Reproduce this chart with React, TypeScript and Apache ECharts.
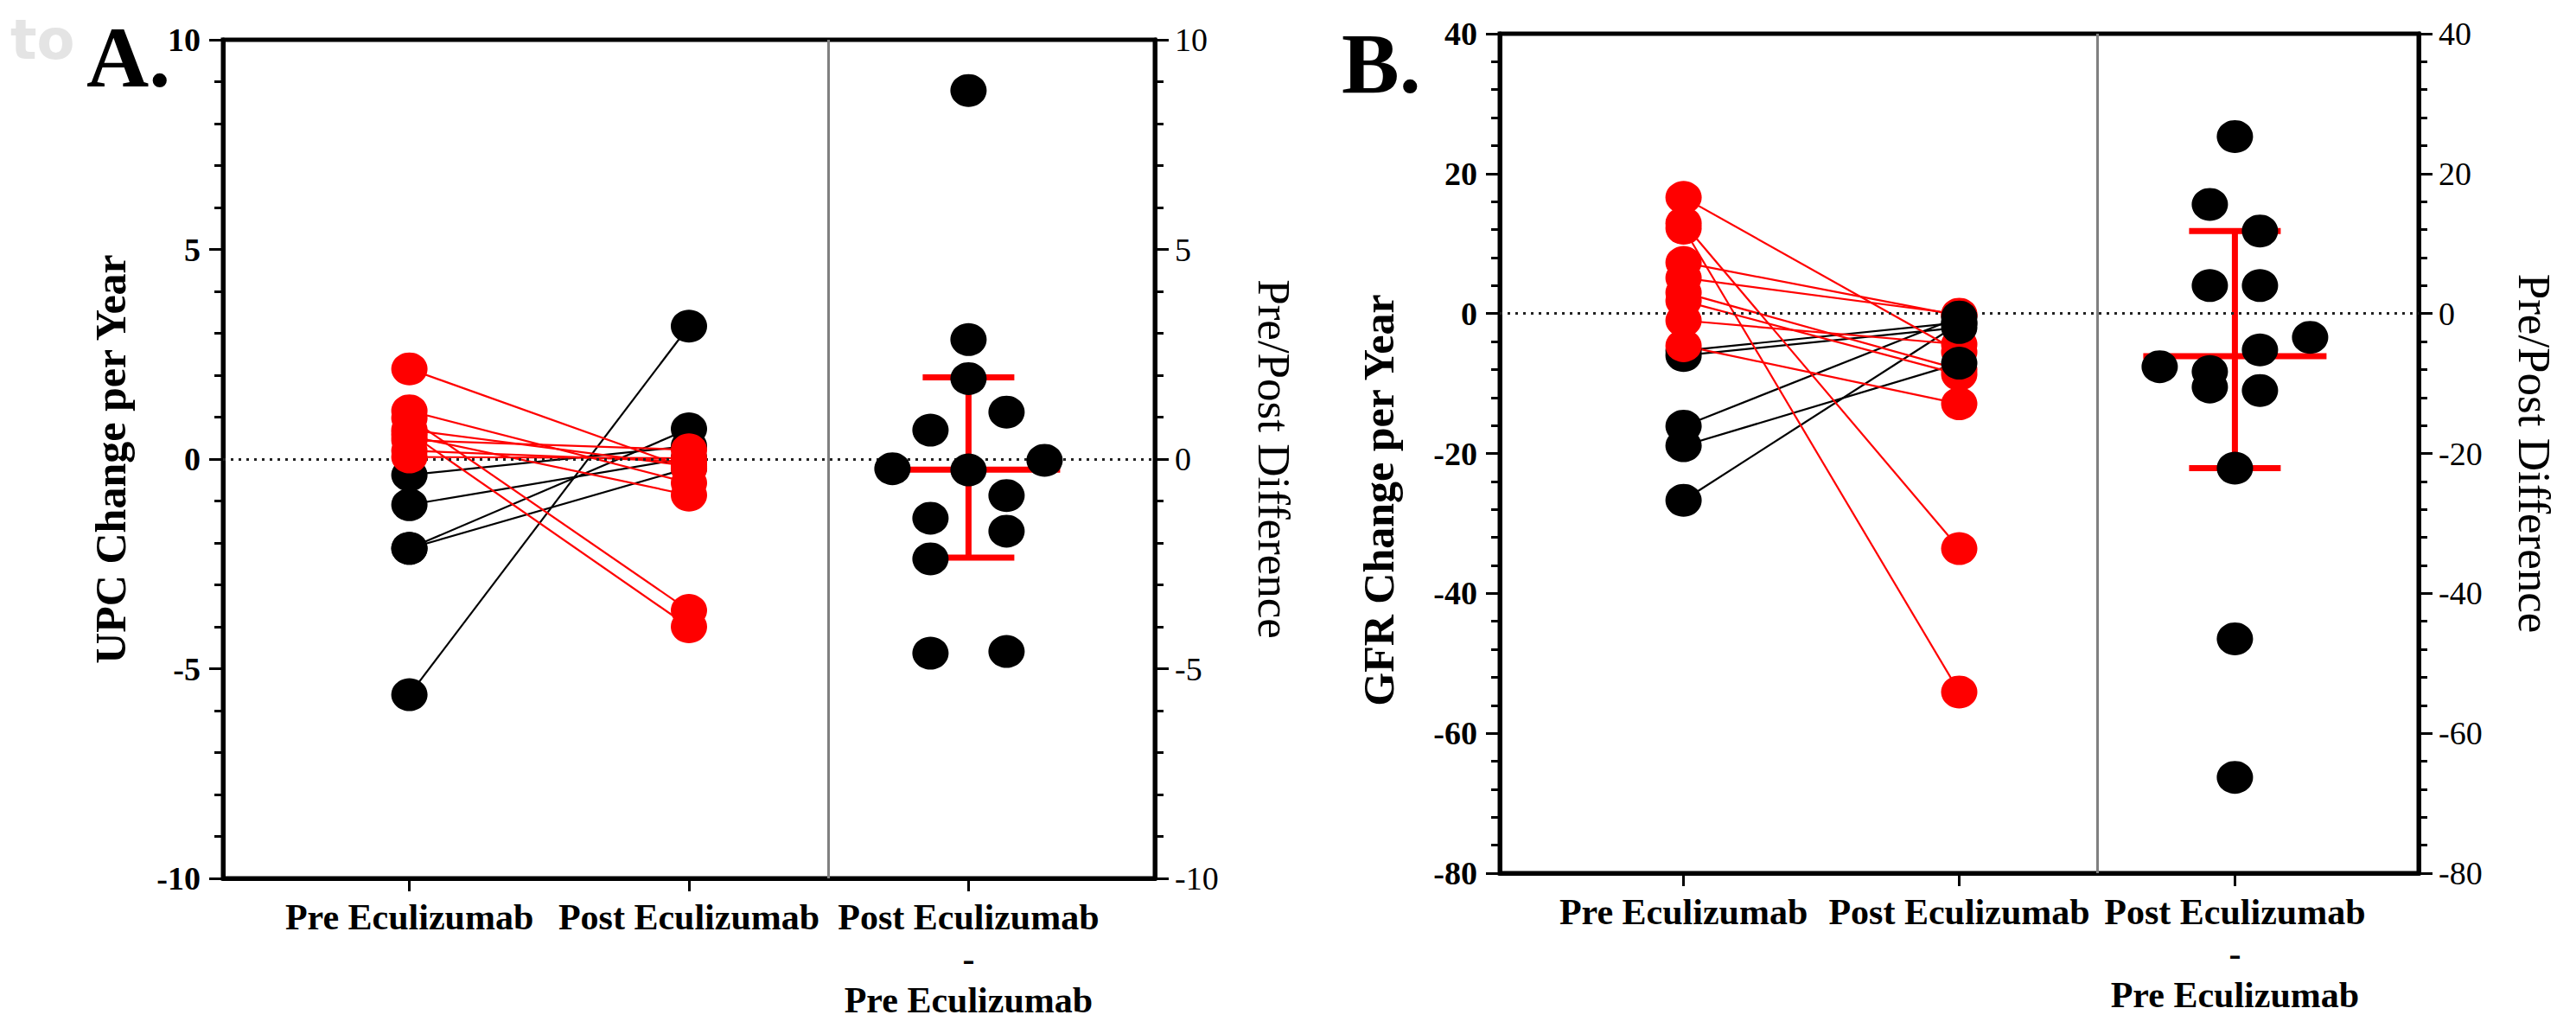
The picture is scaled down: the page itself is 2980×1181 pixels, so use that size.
import React, { useEffect, useRef } from "react";
import * as echarts from "echarts";

// ---------------- DATA ----------------
const categories = ["Pre Eculizumab", "Post Eculizumab", "Post Eculizumab\n-\nPre Eculizumab"];

// Panel A – UPC change per year (one entry per patient)
const upcPre = [-5.62, -2.13, -2.13, -0.38, -1.09, 2.15, 1.15, 0.63, 0.98, 0.55, 0.7, 0.45, 0.2, 0.05];
const upcPost = [3.17, 0.72, -0.21, 0.31, 0.03, -0.23, -0.57, -4.0, -3.61, -0.86, -0.17, 0.22, -0.06, 0.02];
const upcDiff = [8.79, 2.85, 1.92, 0.69, 1.12, -2.38, -1.72, -4.63, -4.59, -1.41, -0.87, -0.23, -0.26, -0.03];
// median, lower bar, upper bar
const upcSummary = [-0.25, -2.35, 1.95];
const upcTicks = [-10, 10, 5];

// Panel B – GFR change per year
const gfrPre = [-26.7, -16.1, -18.9, -6.0, -5.3, 16.6, 12.9, 12.2, 7.3, -4.6, 5.1, -1.0, 1.8, 3.0];
const gfrPost = [-1.4, -0.5, -7.1, -2.0, -1.3, -5.5, -33.6, -54.1, -0.3, -12.9, -0.1, -4.4, -8.7, -8.0];
const gfrDiff = [25.3, 15.6, 11.8, 4.0, 4.0, -22.1, -46.5, -66.3, -7.6, -8.3, -5.2, -3.4, -10.5, -11.0];
const gfrSummary = [-6.1, -22.1, 11.8];
const gfrTicks = [-80, 40, 20];

// ---------------- STYLE / LAYOUT ----------------
const W = 2980;
const H = 1181;
const X_MIN = 1 / 3;
const X_MAX = 11 / 3;
const RED = "#ff0000";
const BLACK = "#000000";
const SERIF = "'Liberation Serif', 'Times New Roman', serif";
const DOT: [number, number] = [42, 38];

const panels = [
  {
    letter: "A.",
    letterPos: [100, 66],
    pre: upcPre,
    post: upcPost,
    diff: upcDiff,
    summary: upcSummary,
    ticks: upcTicks,
    yName: "UPC Change per Year",
    grid: { left: 258, top: 46, width: 1078, height: 982 },
    yNameGap: 105,
    yNameShift: 0,
    rNameGap: 111,
    swarmBinPx: 38,
    swarmSpacingPx: 88,
    postBlackOnTop: false,
  },
  {
    letter: "B.",
    letterPos: [1552, 73],
    pre: gfrPre,
    post: gfrPost,
    diff: gfrDiff,
    summary: gfrSummary,
    ticks: gfrTicks,
    yName: "GFR Change per Year",
    grid: { left: 1735, top: 39, width: 1063, height: 971 },
    yNameGap: 115,
    yNameShift: 54,
    rNameGap: 107,
    swarmBinPx: 41,
    swarmSpacingPx: 58,
    postBlackOnTop: true,
  },
];

// Row-binned beeswarm offsets (x units) computed from the values
function swarmOffsets(values: number[], pxPerY: number, pxPerX: number, binPx: number, spacingPx: number) {
  const order = values.map((_, i) => i).sort((a, b) => values[b] - values[a]);
  const rows: number[][] = [];
  let cur: number[] = [];
  let start = 0;
  for (const i of order) {
    if (cur.length && (start - values[i]) * pxPerY >= binPx) {
      rows.push(cur);
      cur = [];
    }
    if (!cur.length) start = values[i];
    cur.push(i);
  }
  if (cur.length) rows.push(cur);
  const off = values.map(() => 0);
  for (const row of rows) {
    row.sort((a, b) => a - b);
    row.forEach((i, k) => {
      off[i] = ((k - (row.length - 1) / 2) * spacingPx) / pxPerX;
    });
  }
  return off;
}

function buildOption() {
  const grids: any[] = [];
  const xAxes: any[] = [];
  const yAxes: any[] = [];
  const series: any[] = [];
  const graphics: any[] = [];

  panels.forEach((p, i) => {
    const [yMin, yMax, yInt] = p.ticks;
    grids.push({
      ...p.grid,
      show: true,
      borderColor: BLACK,
      borderWidth: 5,
      backgroundColor: "transparent",
      containLabel: false,
    });
    xAxes.push({
      gridIndex: i,
      type: "value",
      min: X_MIN,
      max: X_MAX,
      axisLine: { show: true, onZero: false, lineStyle: { color: BLACK, width: 5 } },
      axisTick: { show: true, customValues: [1, 2, 3], length: 15, lineStyle: { color: BLACK, width: 3 } },
      axisLabel: {
        show: true,
        customValues: [1, 2, 3],
        formatter: (v: number) => categories[Math.round(v) - 1] || "",
        fontFamily: SERIF,
        fontWeight: "bold",
        fontSize: 42,
        lineHeight: 48,
        color: BLACK,
        margin: 21,
      },
      splitLine: { show: false },
    });
    const yCommon = {
      gridIndex: i,
      type: "value",
      min: yMin,
      max: yMax,
      interval: yInt,
      axisLine: { show: true, onZero: false, lineStyle: { color: BLACK, width: 5 } },
      axisTick: { show: true, length: 16, lineStyle: { color: BLACK, width: 3 } },
      minorTick: { show: true, splitNumber: 5, length: 10, lineStyle: { color: BLACK, width: 3 } },
      splitLine: { show: false },
      minorSplitLine: { show: false },
      nameLocation: "middle",
    };
    yAxes.push({
      ...yCommon,
      position: "left",
      axisLabel: { fontFamily: SERIF, fontWeight: "bold", fontSize: 38, color: BLACK, margin: 26 },
      name: p.yName,
      nameRotate: 90,
      nameGap: p.yNameGap,
      nameTextStyle: {
        fontFamily: SERIF,
        fontWeight: "bold",
        fontSize: 50,
        color: BLACK,
        padding: [0, p.yNameShift * 2, 0, 0],
      },
    });
    yAxes.push({
      ...yCommon,
      position: "right",
      axisLabel: { fontFamily: SERIF, fontWeight: "normal", fontSize: 38, color: BLACK, margin: 23 },
      name: "Pre/Post Difference",
      nameRotate: -90,
      nameGap: p.rNameGap,
      nameTextStyle: { fontFamily: SERIF, fontWeight: "normal", fontSize: 53, color: BLACK },
    });

    const yL = 2 * i;
    const yR = 2 * i + 1;

    // reference lines: dotted zero, grey separator
    series.push({
      type: "line",
      xAxisIndex: i,
      yAxisIndex: yL,
      data: [],
      silent: true,
      z: 1,
      markLine: {
        silent: true,
        symbol: "none",
        label: { show: false },
        animation: false,
        data: [
          { yAxis: 0, lineStyle: { type: [3, 6], width: 3, color: "#222222" } },
          { xAxis: 2.5, lineStyle: { type: "solid", width: 3, color: "#808080" } },
        ],
      },
    });

    // paired lines
    p.pre.forEach((v, j) => {
      const down = p.post[j] < v;
      series.push({
        type: "line",
        xAxisIndex: i,
        yAxisIndex: yL,
        data: [
          [1, v],
          [2, p.post[j]],
        ],
        symbol: "none",
        silent: true,
        z: 2,
        lineStyle: { color: down ? RED : BLACK, width: 2.2 },
      });
    });

    const isDown = (j: number) => p.post[j] < p.pre[j];
    const pts = (col: number, arr: number[], red: boolean) =>
      arr.map((v, j) => [col, v, j]).filter((d) => isDown(d[2] as number) === red).map((d) => [d[0], d[1]]);

    const dotSeries = (data: number[][], color: string, z: number) => ({
      type: "scatter",
      xAxisIndex: i,
      yAxisIndex: yL,
      data,
      symbol: "circle",
      symbolSize: DOT,
      itemStyle: { color, opacity: 1 },
      silent: true,
      z,
    });
    series.push(dotSeries(pts(1, p.pre, false), BLACK, 4));
    series.push(dotSeries(pts(1, p.pre, true), RED, 5));
    series.push(dotSeries(pts(2, p.post, false), BLACK, p.postBlackOnTop ? 5 : 4));
    series.push(dotSeries(pts(2, p.post, true), RED, p.postBlackOnTop ? 4 : 5));

    // median & bars
    series.push({
      type: "custom",
      xAxisIndex: i,
      yAxisIndex: yR,
      data: [[3, p.summary[0], p.summary[1], p.summary[2]]],
      encode: { x: 0, y: [1, 2, 3] },
      silent: true,
      z: 3,
      renderItem: (params: any, api: any) => {
        const pm = api.coord([api.value(0), api.value(1)]);
        const pl = api.coord([api.value(0), api.value(2)]);
        const ph = api.coord([api.value(0), api.value(3)]);
        const style = { stroke: RED, lineWidth: 7, fill: null };
        const cap = 53;
        const med = 106;
        return {
          type: "group",
          children: [
            { type: "line", shape: { x1: pm[0], y1: ph[1], x2: pm[0], y2: pl[1] }, style },
            { type: "line", shape: { x1: pm[0] - cap, y1: ph[1], x2: pm[0] + cap, y2: ph[1] }, style },
            { type: "line", shape: { x1: pm[0] - cap, y1: pl[1], x2: pm[0] + cap, y2: pl[1] }, style },
            { type: "line", shape: { x1: pm[0] - med, y1: pm[1], x2: pm[0] + med, y2: pm[1] }, style },
          ],
        };
      },
    });

    // difference dots (beeswarm)
    const pxPerY = p.grid.height / (yMax - yMin);
    const pxPerX = p.grid.width / (X_MAX - X_MIN);
    const offs = swarmOffsets(p.diff, pxPerY, pxPerX, p.swarmBinPx, p.swarmSpacingPx);
    series.push({
      type: "scatter",
      xAxisIndex: i,
      yAxisIndex: yR,
      data: p.diff.map((v, j) => [3 + offs[j], v]),
      symbol: "circle",
      symbolSize: DOT,
      itemStyle: { color: BLACK, opacity: 1 },
      silent: true,
      z: 6,
    });

    graphics.push({
      type: "text",
      x: p.letterPos[0],
      y: p.letterPos[1],
      style: {
        text: p.letter,
        fontFamily: SERIF,
        fontWeight: "bold",
        fontSize: 100,
        fill: BLACK,
        align: "left",
        verticalAlign: "middle",
      },
    });
  });

  // faint watermark fragment at top-left
  graphics.unshift({
    type: "text",
    x: 12,
    y: 14,
    z: -10,
    style: {
      text: "to",
      fontFamily: "'DejaVu Sans', sans-serif",
      fontWeight: "bold",
      fontSize: 64,
      fill: "#e4e4e4",
      align: "left",
      verticalAlign: "top",
    },
  });

  return {
    animation: false,
    backgroundColor: "#ffffff",
    grid: grids,
    xAxis: xAxes,
    yAxis: yAxes,
    series,
    graphic: graphics,
  };
}

export default function App() {
  const ref = useRef<HTMLDivElement>(null);
  useEffect(() => {
    if (!ref.current) return;
    const chart = echarts.init(ref.current, null, { renderer: "svg", width: W, height: H });
    chart.setOption(buildOption() as any);
    return () => chart.dispose();
  }, []);
  return (
    <div
      ref={ref}
      style={{ position: "absolute", left: 0, top: 0, width: W, height: H, background: "#ffffff" }}
    />
  );
}
